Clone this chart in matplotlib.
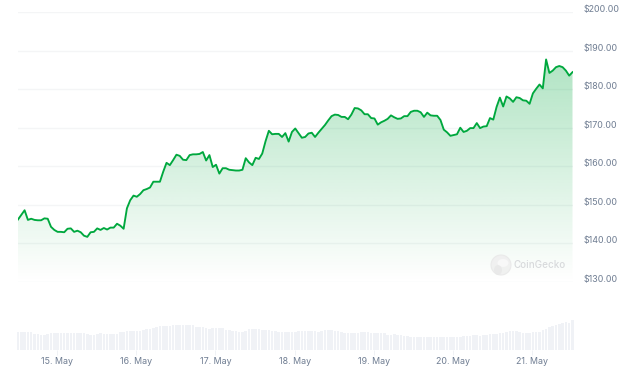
import numpy as np
import pandas as pd
import matplotlib
matplotlib.use('Agg')
import matplotlib.pyplot as plt
import matplotlib.dates as mdates
from matplotlib.patches import Circle, Ellipse, Polygon

W, H = 627, 371

price = [146.2, 147.4, 148.6, 146.1, 146.4, 146.1, 146.0, 146.0, 146.5, 146.4,
         144.3, 143.5, 143.0, 143.0, 142.9, 143.8, 143.9, 143.0, 143.3, 142.9,
         142.0, 141.7, 142.9, 143.0, 143.9, 143.5, 144.0, 143.6, 144.1, 144.1,
         145.1, 144.6, 143.8, 149.1, 151.2, 152.4, 152.1, 152.8, 153.8, 154.1,
         154.5, 156.0, 156.0, 156.0, 158.6, 160.9, 160.3, 161.6, 163.0, 162.7,
         161.7, 161.6, 162.9, 163.1, 163.1, 163.2, 163.7, 161.5, 162.9, 159.8,
         160.4, 158.1, 159.5, 159.5, 159.1, 159.0, 158.9, 158.9, 159.1, 162.1,
         161.0, 160.3, 162.2, 161.9, 163.3, 166.5, 169.2, 168.3, 168.4, 168.4,
         167.6, 168.6, 166.4, 168.9, 169.8, 168.6, 167.4, 167.6, 168.5, 168.7,
         167.6, 168.7, 169.7, 170.7, 171.9, 173.0, 173.4, 173.3, 172.8, 172.8,
         172.2, 173.4, 175.1, 175.0, 174.5, 173.5, 173.5, 172.5, 172.4, 170.8,
         171.4, 171.8, 172.3, 173.2, 172.7, 172.3, 172.4, 173.0, 173.0, 174.1,
         174.4, 174.4, 174.0, 172.8, 173.9, 173.2, 173.1, 173.1, 172.0, 169.5,
         168.8, 167.9, 168.1, 168.3, 170.0, 168.9, 169.2, 169.9, 169.9, 171.2,
         169.9, 170.3, 170.4, 172.5, 172.1, 175.4, 177.8, 175.5, 178.1, 177.6,
         176.7, 177.9, 177.7, 177.1, 177.0, 176.2, 178.9, 180.1, 181.2, 180.2,
         187.7, 184.2, 184.8, 185.7, 186.0, 185.7, 184.8, 183.5, 184.4]

volume = [18, 17.7, 17.7, 18, 17.7, 16.3, 16, 15, 15, 16,
          16.7, 17, 17, 17, 17, 17, 17, 17, 16.7, 16.7,
          16.7, 16.3, 15, 15, 16.3, 16.7, 15.7, 15.7, 15.7, 15.7,
          16.3, 17.7, 18.3, 18.7, 18.7, 18.7, 18.7, 19.3, 20, 21,
          21, 22, 23.3, 23.7, 24, 24.3, 24.3, 24.7, 24.7, 25,
          25.3, 25.3, 25.3, 25, 23.3, 22.7, 22.7, 22.3, 21, 22.3,
          22.3, 21.7, 21.7, 20, 19.7, 18.7, 18.7, 18, 18, 19.3,
          20.7, 20.7, 20.7, 20.7, 20, 19.7, 19.7, 19, 19, 18.5,
          18.5, 18.5, 18.5, 18.5, 18.5,
          18.7, 18.7, 18.7, 18.7, 18.7, 18.7, 18, 19, 20, 20,
          20, 19.5, 19, 18, 17.3, 17.3, 17.3, 17.3, 17.3, 17.7,
          17.7, 17.7, 17.3, 17, 17, 16.7, 16.7, 15, 15.5, 16,
          15, 15, 14, 13.7, 13.3, 13.3, 13, 13.3, 13.3, 13,
          12.7, 12.7, 12.7, 13, 13, 13.3, 13.3, 13.3, 13.3, 13,
          13.7, 14, 14.3, 14.7, 14.7, 14.3, 15, 15.3, 15.7, 16,
          16.3, 16.7, 17.3, 18.3, 18.7, 18.7, 18.7, 17.7, 17.5, 17,
          16.7, 17.7, 18, 18, 20, 21.5, 23, 24, 25.5, 26,
          27, 28, 27.5, 30]

price_ticks = [130, 140, 150, 160, 170, 180, 190, 200]
date_ticks = ['2024-05-15', '2024-05-16', '2024-05-17', '2024-05-18',
              '2024-05-19', '2024-05-20', '2024-05-21']

LINE = '#00a83e'
GRID = '#f4f5f6'
LABEL = '#6f7d92'
BAR = '#f0f2f6'

plt.rcParams['font.family'] = ['Inter', 'DejaVu Sans']

dates = pd.date_range('2024-05-14 12:12', periods=len(price), freq='h')
xnum = mdates.date2num(dates)
xlim = (xnum[0], xnum[-1])

fig = plt.figure(figsize=(W / 100, H / 100), dpi=100)

# price panel, gridlines at y=12 ($200) to y=282 ($130)
ax = fig.add_axes([18 / W, 1 - 282 / H, 554.5 / W, 270 / H])
ax.set_xlim(xlim)
ax.set_ylim(130, 200)
ax.set_yticks(price_ticks)
ax.set_xticks([])
ax.tick_params(length=0, labelleft=False)
ax.grid(axis='y', color=GRID, lw=1)
ax.set_axisbelow(True)
for s in ax.spines.values():
    s.set_visible(False)
ax.patch.set_alpha(0)

# area fill, fades out at the bottom of the panel
grad = np.zeros((256, 1, 4))
grad[..., :3] = matplotlib.colors.to_rgb(LINE)
grad[..., 3] = np.linspace(0.31, 0, 256)[:, None]
im = ax.imshow(grad, extent=(xlim[0], xlim[1], 130, max(price)), aspect='auto',
               origin='upper', zorder=1, interpolation='bilinear')
ax.set_xlim(xlim)
ax.set_ylim(130, 200)
poly = Polygon(np.column_stack([np.r_[xnum[0], xnum, xnum[-1]], np.r_[130, price, 130]]),
               closed=True, transform=ax.transData, fc='none', ec='none')
ax.add_patch(poly)
im.set_clip_path(poly)
ax.plot(xnum, price, color=LINE, lw=1.35, zorder=3, solid_joinstyle='round')

for v in price_ticks:
    ax.annotate(f'${v:.2f}', xy=(1, v), xycoords=ax.get_yaxis_transform(),
                xytext=(584 - 572.5, 2.5), textcoords='offset pixels',
                color=LABEL, fontsize=6.4, ha='left', va='center')

# volume panel, bars stand on y=350
axv = fig.add_axes([18 / W, 1 - 350 / H, 554.5 / W, 38 / H])
axv.bar(xnum, volume, width=0.78 / 24, color=BAR, clip_on=False)
axv.set_xlim(xlim)
axv.set_ylim(0, 38)
axv.set_yticks([])
axv.set_xticks(mdates.date2num(pd.to_datetime(date_ticks)))
axv.xaxis.set_major_formatter(mdates.DateFormatter('%d. %b'))
axv.tick_params(axis='x', length=3.5, width=0.7, color='#f0f2f5', labelcolor=LABEL,
                labelsize=6.4, pad=1.5)
for s in axv.spines.values():
    s.set_visible(False)
axv.patch.set_alpha(0)

# CoinGecko watermark
wm = fig.add_axes([0, 0, 1, 1])
wm.set_xlim(0, W)
wm.set_ylim(H, 0)
wm.axis('off')
wm.add_patch(Circle((501, 265), 10, fc='#efefef', ec='#e8e8e8', lw=0.8, alpha=0.85))
wm.add_patch(Ellipse((503, 263), 11, 8, fc='#f8f8f8', ec='none'))
wm.add_patch(Ellipse((498, 270), 8, 10, fc='#e8e8e8', ec='none', alpha=0.8))
wm.text(514, 265, 'CoinGecko', color='#d8dadc', fontsize=7.1, fontweight='medium',
        ha='left', va='center')

fig.savefig('out.png', dpi=100)
